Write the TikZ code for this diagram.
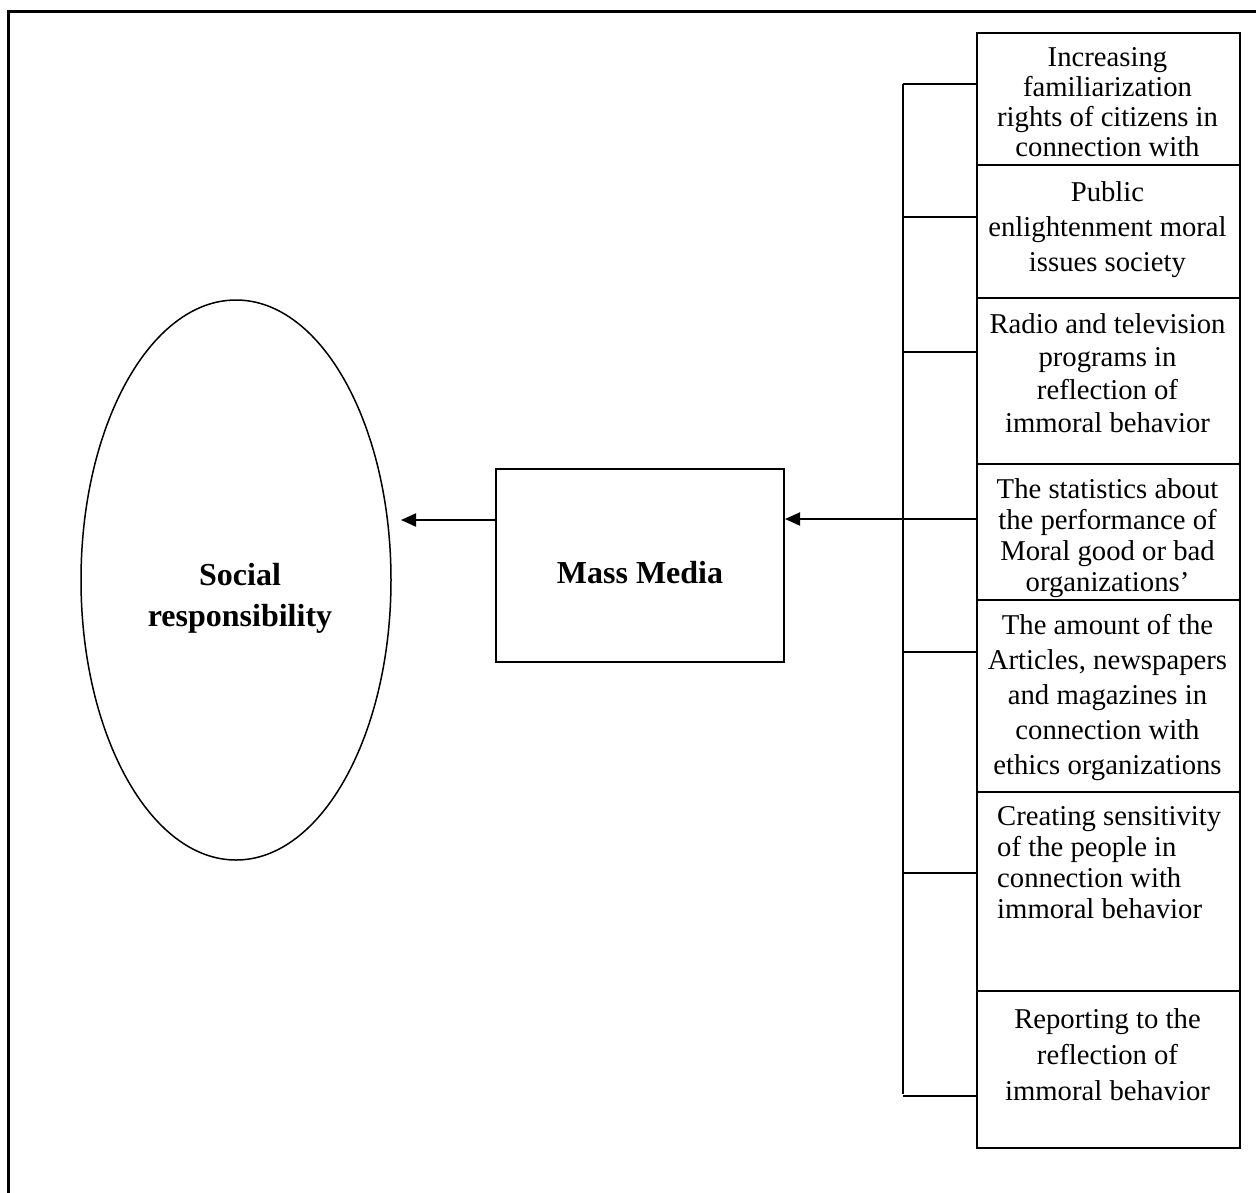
\documentclass[tikz,border=0pt]{standalone}
\usepackage{fontspec}
\setmainfont{Liberation Serif}
\usetikzlibrary{shapes.geometric,arrows.meta}
\begin{document}
\begin{tikzpicture}[x=1pt,y=-1pt,
  itembox/.style={draw, line width=2pt, minimum width=263pt, inner sep=0pt, anchor=north west},
  itemtext/.style={font=\fontsize{28.7}{#1}\selectfont, align=center, inner sep=0pt, anchor=north,
    execute at begin node={\rule{0pt}{20pt}}},
  lefttext/.style={font=\fontsize{28.7}{#1}\selectfont, align=left, inner sep=0pt, anchor=north west,
    execute at begin node={\rule{0pt}{20pt}}},
  bigtext/.style={font=\fontsize{32}{#1}\selectfont\bfseries, align=center, inner sep=0pt},
  link/.style={line width=2pt},
  arr/.style={line width=2pt, -{Triangle[length=15pt,width=13pt]}}
]
\useasboundingbox (0,0) rectangle (1256,1192);
\clip (0,0) rectangle (1256,1192);
% outer frame (only top and left edges visible)
\draw[line width=3pt] (8,1300) -- (8,11) -- (1300,11);

% Social responsibility
\node[ellipse, draw, line width=1.5pt, minimum width=310pt, minimum height=560pt, inner sep=0pt] (sr) at (236,580) {};
\node[bigtext=41, anchor=north, execute at begin node={\rule{0pt}{23pt}}] (srtext) at (240,563) {Social\\responsibility};

% Mass Media
\node[draw, line width=2pt, minimum width=288pt, minimum height=193pt, inner sep=0pt,
  font=\fontsize{32}{38}\selectfont\bfseries, text height=35pt, text depth=0pt] (mm) at (640,565.5) {Mass Media};

% right column boxes
\node[itembox, minimum height=132pt] (b1) at (976,32) {};
\node[itembox, minimum height=133pt] (b2) at (976,164) {};
\node[itembox, minimum height=166pt] (b3) at (976,297) {};
\node[itembox, minimum height=136pt] (b4) at (976,463) {};
\node[itembox, minimum height=192pt] (b5) at (976,599) {};
\node[itembox, minimum height=199pt] (b6) at (976,791) {};
\node[itembox, minimum height=157pt] (b7) at (976,990) {};

\node[itemtext=30.2] (t1x) at (1107.5,47) {Increasing\\familiarization\\rights of citizens in\\connection with};
\node[itemtext=35] (t2x) at (1107.5,181) {Public\\enlightenment moral\\issues society};
\node[itemtext=33] (t3x) at (1107.5,313) {Radio and television\\programs in\\reflection of\\immoral behavior};
\node[itemtext=31] (t4x) at (1107.5,478) {The statistics about\\the performance of\\Moral good or bad\\organizations’};
\node[itemtext=35] (t5x) at (1107.5,614) {The amount of the\\Articles, newspapers\\and magazines in\\connection with\\ethics organizations};
\node[lefttext=31] (t6x) at (997,806) {Creating sensitivity\\of the people in\\connection with\\immoral behavior};
\node[itemtext=36] (t7x) at (1107.5,1008) {Reporting to the\\reflection of\\immoral behavior};

% spine and ticks
\coordinate (t1) at (903,84);
\coordinate (t2) at (903,217);
\coordinate (t3) at (903,352);
\coordinate (t4) at (903,519);
\coordinate (t5) at (903,652);
\coordinate (t6) at (903,873);
\coordinate (t7) at (903,1096);
\coordinate (spend) at (903,1094);
\draw[link] (t1) -- (spend);
\draw[link] (t1) -- (b1.west |- t1);
\draw[link] (t2) -- (b2.west |- t2);
\draw[link] (t3) -- (b3.west |- t3);
\draw[link] (t4) -- (b4.west |- t4);
\draw[link] (t5) -- (b5.west |- t5);
\draw[link] (t6) -- (b6.west |- t6);
\draw[link] (t7) -- (b7.west |- t7);

% arrows
\draw[arr] (t4) -- (mm.east |- t4);
\coordinate (ra) at (401,520);
\draw[arr] (mm.west |- ra) -- (ra);
\end{tikzpicture}
\end{document}
